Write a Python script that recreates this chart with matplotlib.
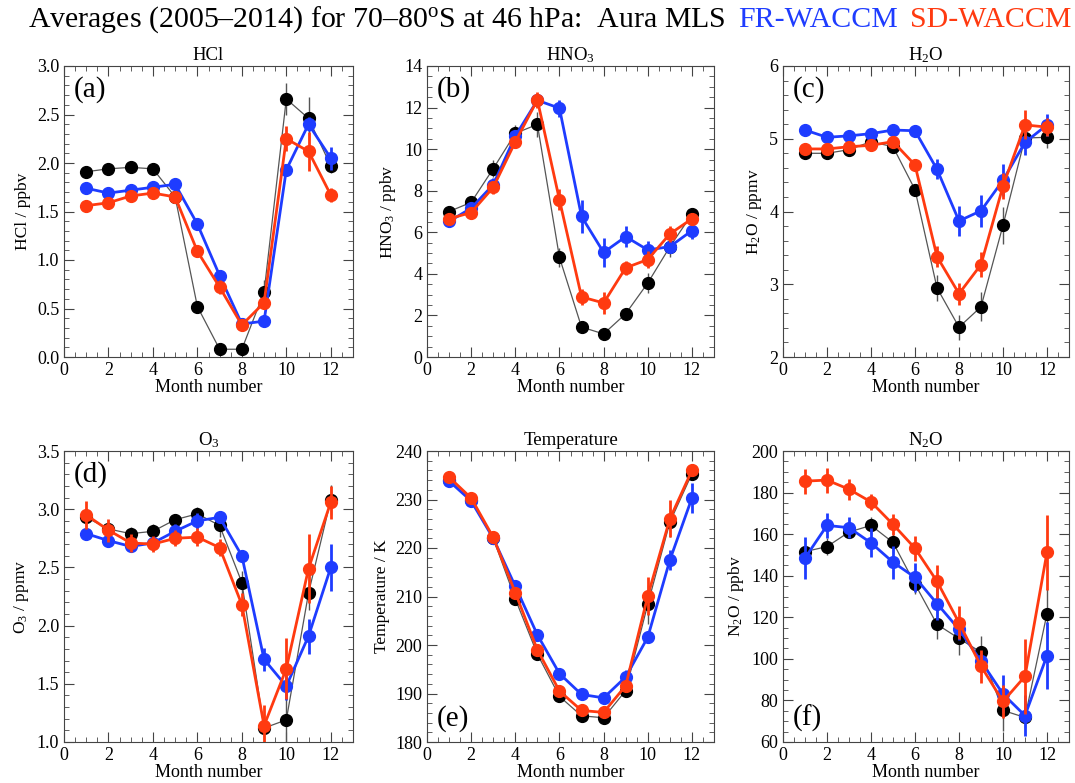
import numpy as np
import matplotlib
matplotlib.use("Agg")
import matplotlib.pyplot as plt
from matplotlib.ticker import MultipleLocator, FormatStrFormatter

plt.rcParams['font.family'] = ['Liberation Serif', 'DejaVu Serif']
plt.rcParams['mathtext.fontset'] = 'custom'
plt.rcParams['mathtext.rm'] = 'Liberation Serif'
plt.rcParams['mathtext.it'] = 'Liberation Serif:italic'
plt.rcParams['mathtext.default'] = 'rm'

BLUE = '#1e3cff'
RED = '#ff3a10'

months = np.arange(1, 13)

# HCl (ppbv)
hcl_mls = [1.91, 1.94, 1.955, 1.94, 1.65, 0.52, 0.08, 0.08, 0.67, 2.66, 2.46, 1.97]
hcl_mls_err = [0.05, 0.06, 0.05, 0.05, 0.05, 0.04, 0.02, 0.02, 0.12, 0.16, 0.22, 0.07]
hcl_fr = [1.74, 1.69, 1.72, 1.75, 1.78, 1.37, 0.84, 0.34, 0.37, 1.93, 2.40, 2.05]
hcl_fr_err = [0.05, 0.03, 0.03, 0.03, 0.05, 0.03, 0.05, 0.03, 0.05, 0.05, 0.07, 0.12]
hcl_sd = [1.56, 1.59, 1.66, 1.69, 1.65, 1.09, 0.72, 0.33, 0.56, 2.25, 2.12, 1.67]
hcl_sd_err = [0.03, 0.06, 0.05, 0.04, 0.03, 0.06, 0.07, 0.06, 0.07, 0.13, 0.20, 0.07]

# HNO3 (ppbv)
hno3_mls = [7.0, 7.44, 9.06, 10.76, 11.19, 4.79, 1.44, 1.11, 2.08, 3.56, 5.3, 6.87]
hno3_mls_err = [0.2, 0.3, 0.4, 0.4, 0.6, 0.45, 0.2, 0.1, 0.3, 0.5, 0.5, 0.3]
hno3_fr = [6.52, 7.16, 8.29, 10.63, 12.35, 11.97, 6.76, 5.03, 5.79, 5.15, 5.31, 6.08]
hno3_fr_err = [0.2, 0.2, 0.3, 0.3, 0.3, 0.4, 0.8, 0.7, 0.5, 0.45, 0.3, 0.4]
hno3_sd = [6.65, 6.95, 8.16, 10.35, 12.37, 7.56, 2.89, 2.6, 4.29, 4.69, 5.92, 6.65]
hno3_sd_err = [0.2, 0.2, 0.3, 0.3, 0.4, 0.5, 0.4, 0.55, 0.35, 0.4, 0.4, 0.3]

# H2O (ppmv)
h2o_mls = [4.80, 4.80, 4.85, 4.96, 4.89, 4.30, 2.95, 2.41, 2.69, 3.81, 5.01, 5.02]
h2o_mls_err = [0.05, 0.05, 0.05, 0.05, 0.05, 0.07, 0.18, 0.17, 0.2, 0.25, 0.1, 0.15]
h2o_fr = [5.12, 5.02, 5.04, 5.07, 5.12, 5.11, 4.58, 3.87, 4.01, 4.43, 4.95, 5.19]
h2o_fr_err = [0.08, 0.04, 0.04, 0.04, 0.04, 0.04, 0.14, 0.2, 0.22, 0.22, 0.17, 0.15]
h2o_sd = [4.86, 4.86, 4.89, 4.91, 4.96, 4.64, 3.38, 2.87, 3.27, 4.35, 5.19, 5.16]
h2o_sd_err = [0.04, 0.04, 0.04, 0.04, 0.04, 0.06, 0.14, 0.15, 0.17, 0.18, 0.2, 0.12]

# O3 (ppmv)
o3_mls = [2.93, 2.83, 2.79, 2.81, 2.91, 2.96, 2.86, 2.37, 1.12, 1.19, 2.28, 3.08]
o3_mls_err = [0.08, 0.06, 0.06, 0.06, 0.05, 0.06, 0.1, 0.1, 0.12, 0.3, 0.15, 0.13]
o3_fr = [2.79, 2.73, 2.68, 2.71, 2.81, 2.90, 2.93, 2.60, 1.71, 1.48, 1.91, 2.50]
o3_fr_err = [0.05, 0.04, 0.05, 0.05, 0.06, 0.07, 0.05, 0.05, 0.1, 0.12, 0.15, 0.2]
o3_sd = [2.95, 2.82, 2.71, 2.70, 2.75, 2.76, 2.67, 2.18, 1.14, 1.63, 2.49, 3.06]
o3_sd_err = [0.12, 0.1, 0.08, 0.07, 0.07, 0.08, 0.07, 0.1, 0.18, 0.26, 0.3, 0.14]

# Temperature (K)
t_mls = [234.0, 229.8, 222.0, 209.5, 198.1, 189.4, 185.4, 185.0, 190.6, 208.4, 225.3, 235.3]
t_mls_err = [0.5, 0.5, 0.5, 0.6, 0.5, 0.5, 0.5, 0.5, 0.8, 4.0, 3.0, 0.8]
t_fr = [233.8, 229.7, 222.0, 212.1, 202.1, 194.1, 189.8, 189.1, 193.4, 201.6, 217.5, 230.3]
t_fr_err = [0.5, 0.5, 0.5, 0.6, 0.8, 0.6, 0.5, 0.5, 1.5, 1.2, 2.0, 3.0]
t_sd = [234.6, 230.3, 222.2, 210.8, 199.0, 190.5, 186.5, 186.1, 191.6, 210.1, 226.0, 236.0]
t_sd_err = [0.5, 0.5, 0.5, 0.6, 0.6, 0.6, 0.6, 0.6, 1.0, 4.0, 3.8, 0.8]

# N2O (ppbv)
n2o_mls = [151.6, 154.0, 161.0, 164.2, 156.0, 136.0, 116.6, 109.8, 103.2, 75.2, 71.8, 121.8]
n2o_mls_err = [3, 4, 3, 4, 5, 5, 7, 8, 8, 10, 5, 12]
n2o_fr = [148.5, 164.2, 163.1, 155.8, 146.5, 139.2, 126.6, 114.2, 98.9, 83.1, 72.7, 101.6]
n2o_fr_err = [10, 6, 5, 7, 8, 7, 8, 5, 4, 9, 10, 16]
n2o_sd = [185.5, 186.0, 181.6, 175.5, 164.7, 153.2, 137.3, 117.4, 96.5, 79.5, 91.6, 151.3]
n2o_sd_err = [6, 6, 5, 4, 5, 6, 8, 8, 8, 8, 18, 18]

panels = [
    ("HCl", "HCl / ppbv", "(a)", (0, 3), 0.5, 0.1,
     (hcl_mls, hcl_mls_err), (hcl_fr, hcl_fr_err), (hcl_sd, hcl_sd_err), 'top'),
    ("HNO$_3$", "HNO$_3$ / ppbv", "(b)", (0, 14), 2, 0.5,
     (hno3_mls, hno3_mls_err), (hno3_fr, hno3_fr_err), (hno3_sd, hno3_sd_err), 'top'),
    ("H$_2$O", "H$_2$O / ppmv", "(c)", (2, 6), 1, 0.2,
     (h2o_mls, h2o_mls_err), (h2o_fr, h2o_fr_err), (h2o_sd, h2o_sd_err), 'top'),
    ("O$_3$", "O$_3$ / ppmv", "(d)", (1, 3.5), 0.5, 0.1,
     (o3_mls, o3_mls_err), (o3_fr, o3_fr_err), (o3_sd, o3_sd_err), 'top'),
    ("Temperature", "Temperature / K", "(e)", (180, 240), 10, 2,
     (t_mls, t_mls_err), (t_fr, t_fr_err), (t_sd, t_sd_err), 'bottom'),
    ("N$_2$O", "N$_2$O / ppbv", "(f)", (60, 200), 20, 5,
     (n2o_mls, n2o_mls_err), (n2o_fr, n2o_fr_err), (n2o_sd, n2o_sd_err), 'bottom'),
]

W, H = 1075, 783
fig = plt.figure(figsize=(W / 100, H / 100), dpi=100)

lefts = [64, 427, 783]
widths = [289, 287, 286]
tops = [66, 451]
ax_h = 291

for i, (title, ylab, tag, ylim, major, minor, mls, fr, sd, tagpos) in enumerate(panels):
    row, col = divmod(i, 3)
    l = lefts[col] / W
    b = 1 - (tops[row] + ax_h) / H
    ax = fig.add_axes([l, b, widths[col] / W, ax_h / H])

    # Aura MLS: thin grey line, black dots
    ax.plot(months, mls[0], color='#555555', lw=0.9, zorder=2)
    ax.errorbar(months, mls[0], yerr=mls[1], fmt='o', color='black', ecolor='#555555',
                elinewidth=1.0, ms=8.5, capsize=0, zorder=3)
    ax.errorbar(months, fr[0], yerr=fr[1], fmt='o-', color=BLUE, lw=2, elinewidth=2,
                ms=8.5, capsize=0, zorder=4)
    ax.errorbar(months, sd[0], yerr=sd[1], fmt='o-', color=RED, lw=2, elinewidth=2,
                ms=8.5, capsize=0, zorder=5)

    ax.set_xlim(0, 13)
    ax.set_ylim(*ylim)
    ax.xaxis.set_major_locator(MultipleLocator(2))
    ax.xaxis.set_minor_locator(MultipleLocator(0.5))
    ax.yaxis.set_major_locator(MultipleLocator(major))
    ax.yaxis.set_minor_locator(MultipleLocator(minor))
    ax.tick_params(which='both', direction='in', top=True, right=True, labelsize=13,
                   color='#444444')
    ax.tick_params(which='major', length=7, width=0.8)
    ax.tick_params(which='minor', length=3.5, width=0.6)
    for s in ax.spines.values():
        s.set_color('#444444')
        s.set_linewidth(0.8)
    if major < 1:
        ax.yaxis.set_major_formatter(FormatStrFormatter('%.1f'))

    ax.set_title(title, fontsize=13.5, pad=4)
    ax.set_xlabel("Month number", fontsize=13, labelpad=0)
    ax.set_ylabel(ylab, fontsize=12.5, labelpad=4)
    if tagpos == 'top':
        ax.text(0.035, 0.965, tag, transform=ax.transAxes, fontsize=21, va='top', ha='left')
    else:
        ax.text(0.035, 0.035, tag, transform=ax.transAxes, fontsize=21, va='bottom', ha='left')

# Multi-coloured title
pieces = [("Averages (2005\u20132014) for 70\u201380$^{o}$S at 46 hPa:  Aura MLS", 'black'),
          ("FR-WACCM", BLUE), ("SD-WACCM", RED)]
fig.canvas.draw()
r = fig.canvas.get_renderer()
gap = 12
texts = []
x = 0
for s, c in pieces:
    t = fig.text(x / W, 1 - 20 / H, s, color=c, fontsize=21.5, ha='left', va='center')
    bb = t.get_window_extent(r)
    texts.append(t)
    x = bb.x1 + gap
total = x - gap
start = (31 + 1068) / 2 - total / 2
for t in texts:
    px, py = t.get_position()
    t.set_position((px + start / W, py))

fig.savefig("out.png", dpi=100)
